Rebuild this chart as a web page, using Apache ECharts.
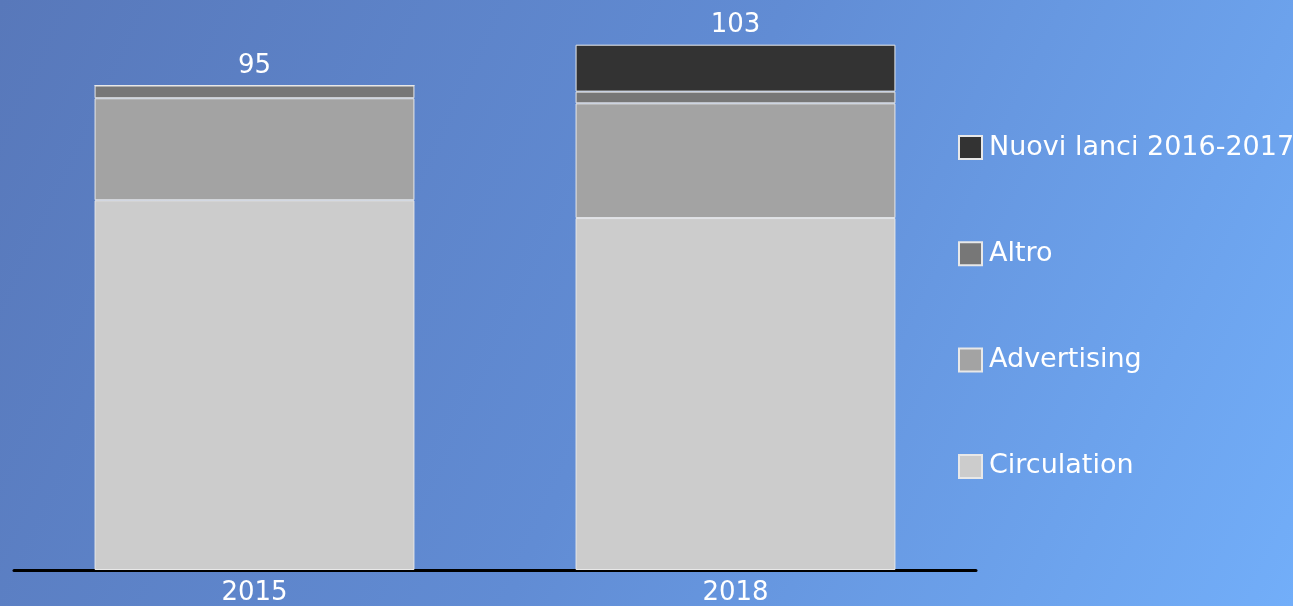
<!DOCTYPE html>
<html>
<head>
<meta charset="utf-8">
<script src="https://cdn.jsdelivr.net/npm/echarts@6/dist/echarts.min.js"></script>
<style>
  html, body { margin: 0; padding: 0; }
  #chart { width: 1293px; height: 606px; }
</style>
</head>
<body>
<div id="chart"></div>
<script>
// data
const years = ['2015', '2018']
const circulation = [72.5, 69]
const advertising = [20, 22.5]
const altro = [2.5, 2.3]
const nuoviLanci = [0, 9.2]
const totals = [95, 103]

const seriesDefs = [
  { name: 'Circulation', values: circulation, color: '#cccccc' },
  { name: 'Advertising', values: advertising, color: '#a3a3a3' },
  { name: 'Altro', values: altro, color: '#777777' },
  { name: 'Nuovi lanci 2016-2017', values: nuoviLanci, color: '#333333' }
]

// index of the topmost non-empty segment for each year, gets the total label
const topIndex = years.map((_, i) => {
  let top = 0
  seriesDefs.forEach((s, k) => { if (s.values[i] > 0) top = k })
  return top
})

const font = 'DejaVu Sans, Verdana, sans-serif'

const chart = echarts.init(document.getElementById('chart'))

chart.setOption({
  backgroundColor: new echarts.graphic.LinearGradient(0, 0, 1, 1, [
    { offset: 0, color: '#5878ba' },
    { offset: 0.5, color: '#618cd4' },
    { offset: 1, color: '#72aef9' }
  ]),
  animation: false,
  textStyle: { fontFamily: font },
  legend: {
    orient: 'vertical',
    left: 958,
    top: 134,
    padding: 0,
    icon: 'rect',
    itemWidth: 23,
    itemHeight: 23,
    itemGap: 79.3,
    data: seriesDefs.map(s => s.name).reverse(),
    textStyle: { color: '#ffffff', fontSize: 27, fontFamily: font, padding: [0, 0, 0, 2] }
  },
  grid: { left: 14, right: 317, top: 9, bottom: 36 },
  xAxis: {
    type: 'category',
    data: years,
    axisLine: { show: true, lineStyle: { color: '#000000', width: 3 } },
    axisTick: { show: false },
    axisLabel: { color: '#ffffff', fontSize: 26, fontFamily: font, margin: 10 }
  },
  yAxis: {
    type: 'value',
    min: 0,
    max: 110,
    show: false,
    splitLine: { show: false }
  },
  series: seriesDefs.map((s, k) => ({
    name: s.name,
    type: 'bar',
    stack: 'tot',
    barCategoryGap: '33.5%',
    itemStyle: { color: s.color, borderColor: '#e8e8e8', borderWidth: 1 },
    data: s.values.map((v, i) => {
      const item = { value: v }
      if (topIndex[i] === k) {
        item.label = {
          show: true,
          position: 'top',
          distance: 6,
          color: '#ffffff',
          fontSize: 26,
          fontFamily: font,
          formatter: String(totals[i])
        }
      }
      return item
    })
  }))
})
</script>
</body>
</html>
